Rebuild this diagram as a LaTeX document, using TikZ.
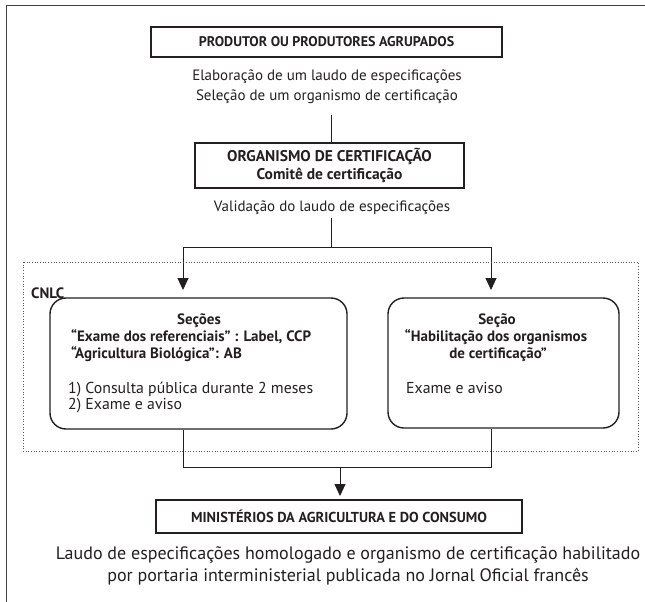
\documentclass[tikz,border=0pt]{standalone}
\usepackage{fontspec}
\setmainfont{PT Sans}
\usetikzlibrary{arrows.meta}
\definecolor{ink}{HTML}{231F20}
\begin{document}
\begin{tikzpicture}[x=1pt,y=-1pt,
  every node/.style={inner sep=0pt, text=ink},
  sqbox/.style={draw=ink, line width=1.1pt},
  rbox/.style={draw=ink, line width=1.4pt, rounded corners=16pt},
  conn/.style={draw=ink, line width=0.9pt},
  arr/.style={conn, -{Triangle[length=12pt,width=11pt]}},
  capsa/.style={font=\bfseries\fontsize{14}{18}\selectfont, align=center},
  capsb/.style={font=\bfseries\fontsize{15.5}{18.5}\selectfont, align=center},
  capsc/.style={font=\bfseries\fontsize{14.4}{18}\selectfont, align=center},
  boldt/.style={font=\bfseries\fontsize{15}{17}\selectfont},
  regt/.style={font=\fontsize{15.8}{17}\selectfont},
  body/.style={font=\fontsize{15}{20}\selectfont, align=center},
  bigt/.style={font=\fontsize{18}{21.5}\selectfont, align=center}
]
\useasboundingbox (0,0) rectangle (645,602);
% outer frame
\draw[line width=0.8pt, ink!85] (6,602) -- (6,5) -- (645,5);

% top box
\node[sqbox, minimum width=351pt, minimum height=30pt, capsa] (prod) at (326.5,42) {PRODUTOR OU PRODUTORES AGRUPADOS};
\node[body] (elab) at (327,87) {Elaboração de um laudo de especificações\\Seleção de um organismo de certificação};

\node[sqbox, minimum width=269pt, minimum height=45pt, capsb] (org) at (329.5,165.5) {ORGANISMO DE CERTIFICAÇÃO\\Comitê de certificação};
\node[body] (valid) at (332,208) {Validação do laudo de especificações};

\coordinate (c1) at (331,115);
\draw[conn] (c1) -- (c1 |- org.north);
\coordinate (c2) at (331,218);
\coordinate (split) at (331,247);
\coordinate (aL) at (183,290);
\coordinate (aR) at (491,290);
\draw[conn] (c2) -- (split);
\draw[arr] (split) -| (aL);
\draw[arr] (split) -| (aR);

% CNLC dotted frame
\draw[dotted, line width=0.7pt, ink!75] (23,262) rectangle (638,451);
\node[boldt, anchor=base west] (cnlc) at (31,298) {CNLC};

% section boxes
\node[rbox, minimum width=297pt, minimum height=131pt] (lb) at (198.5,363.5) {};
\node[rbox, minimum width=231pt, minimum height=130pt] (rb) at (503.5,363) {};

\node[boldt, anchor=base] (ls1) at (199,324) {Seções};
\node[boldt, anchor=base west] (ls2) at (71,341) {“Exame dos referenciais” : Label, CCP};
\node[boldt, anchor=base west] (ls3) at (71,358) {“Agricultura Biológica”: AB};
\node[regt, anchor=base west] (ls4) at (68,393) {1) Consulta pública durante 2 meses};
\node[regt, anchor=base west] (ls5) at (68,409) {2) Exame e aviso};

\node[boldt, anchor=base] (rs1) at (497,324) {Seção};
\node[boldt, anchor=base] (rs2) at (496,341) {“Habilitação dos organismos};
\node[boldt, anchor=base] (rs3) at (498,358) {de certificação”};
\node[regt, anchor=base west] (rs4) at (406,393) {Exame e aviso};

% bottom
\node[sqbox, minimum width=366pt, minimum height=33pt, capsc] (min) at (339,516.5) {MINISTÉRIOS DA AGRICULTURA E DO CONSUMO};
\coordinate (jL) at (183,467);
\coordinate (jR) at (491,467);
\coordinate (jM) at (340,467);
\coordinate (aM) at (340,496);
\draw[conn] (lb.south -| jL) -- (jL) -- (jR) -- (rb.south -| jR);
\draw[arr] (jM) -- (aM);

\node[bigt] (final) at (348,566) {Laudo de especificações homologado e organismo de certificação habilitado\\por portaria interministerial publicada no Jornal Oficial francês};
\end{tikzpicture}
\end{document}
